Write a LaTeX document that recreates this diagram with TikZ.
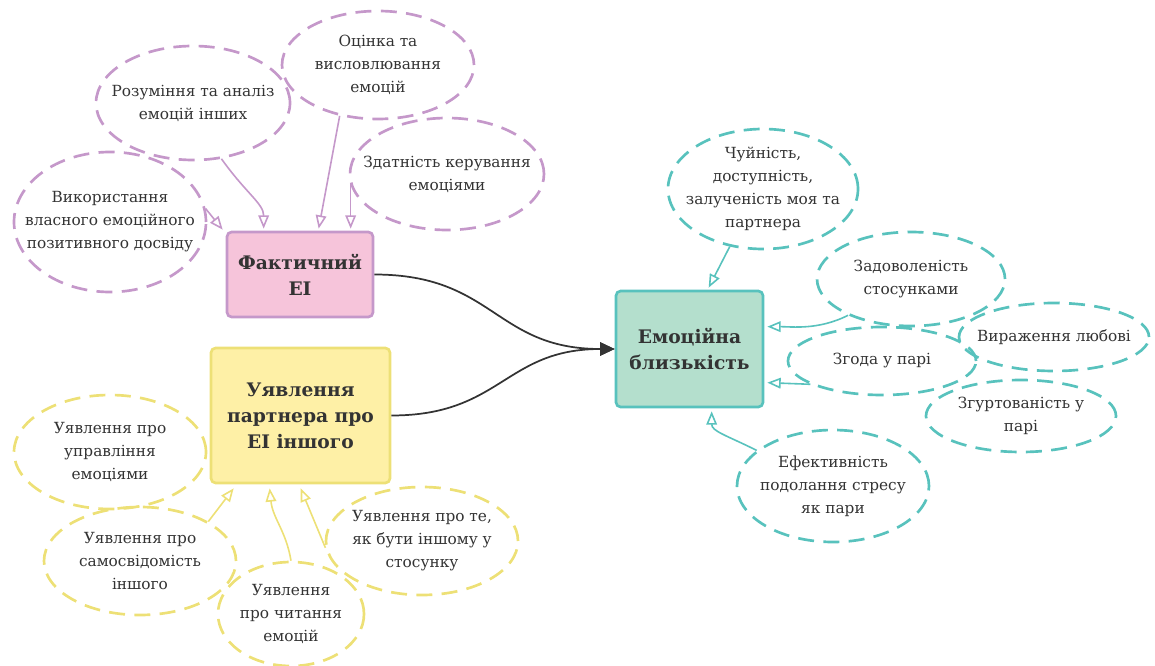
\documentclass[tikz,border=0pt]{standalone}
\usepackage{fontspec}
\setmainfont{DejaVu Serif}
\usetikzlibrary{arrows.meta,shapes.geometric,calc}
\definecolor{pinkF}{HTML}{F6C4DA}
\definecolor{pinkL}{HTML}{C598CA}
\definecolor{yelF}{HTML}{FEF0A6}
\definecolor{yelL}{HTML}{EDE076}
\definecolor{tealF}{HTML}{B4DFCD}
\definecolor{tealL}{HTML}{58C2BD}
\definecolor{txt}{HTML}{333333}
\begin{document}
\begin{tikzpicture}[x=0.75pt,y=-0.75pt,
  ell/.style={draw, ellipse, inner sep=0pt, line width=2pt, dash pattern=on 12pt off 7pt},
  lbl/.style={align=center, text=txt, inner sep=0pt, font=\fontsize{11.5}{17.25}\selectfont},
  box/.style={draw, rounded corners=3.5pt, line width=2pt, align=center, text=txt, inner sep=0pt, font=\bfseries\fontsize{14}{19.5}\selectfont},
  con/.style={line width=1.2pt, -{Triangle[open, length=10pt, width=8pt]}},
  mainlink/.style={draw=txt, line width=1.3pt, -{Triangle[length=11pt, width=10pt]}}]
\useasboundingbox (0,0) rectangle (1155,666);

% central boxes
\node[box, fill=pinkF, draw=pinkL, minimum width=109.5pt, minimum height=63.75pt] (fact) at (300,274.5) {Фактичний\\ЕІ};
\node[box, fill=yelF, draw=yelL, minimum width=134.25pt, minimum height=101.25pt] (yel) at (300.5,415.5) {Уявлення\\партнера про\\ЕІ іншого};
\node[box, fill=tealF, draw=tealL, minimum width=110.25pt, minimum height=87pt] (emo) at (689.5,349) {Емоційна\\близькість};

% pink ellipses
\node[ell, draw=pinkL, minimum width=144pt, minimum height=81pt] (ocin) at (378,65) {};
\node[lbl] (ocin-t) at (ocin) {Оцінка та\\висловлювання\\емоцій};
\node[ell, draw=pinkL, minimum width=145.5pt, minimum height=85.5pt] (roz) at (193,103) {};
\node[lbl] (roz-t) at (roz) {Розуміння та аналіз\\емоцій інших};
\node[ell, draw=pinkL, minimum width=145.5pt, minimum height=84pt] (zdat) at (447,174) {};
\node[lbl] (zdat-t) at (zdat) {Здатність керування\\емоціями};
\node[ell, draw=pinkL, minimum width=144pt, minimum height=105pt] (vyk) at (110,222) {};
\node[lbl] (vyk-t) at (vyk) {Використання\\власного емоційного\\позитивного досвіду};

% yellow ellipses
\node[ell, draw=yelL, minimum width=144pt, minimum height=85.5pt] (upr) at (110,452) {};
\node[lbl] (upr-t) at (upr) {Уявлення про\\управління\\емоціями};
\node[ell, draw=yelL, minimum width=144pt, minimum height=81pt] (sam) at (140,561) {};
\node[lbl] (sam-t) at (sam) {Уявлення про\\самосвідомість\\іншого};
\node[ell, draw=yelL, minimum width=109.5pt, minimum height=78pt] (chyt) at (291,614) {};
\node[lbl] (chyt-t) at (chyt) {Уявлення\\про читання\\емоцій};
\node[ell, draw=yelL, minimum width=144pt, minimum height=81pt] (te) at (422,541) {};
\node[lbl] (te-t) at (te) {Уявлення про те,\\як бути іншому у\\стосунку};

% teal ellipses
\node[ell, draw=tealL, minimum width=142.5pt, minimum height=90pt] (chuy) at (763,189) {};
\node[lbl] (chuy-t) at (chuy) {Чуйність,\\доступність,\\залученість моя та\\партнера};
\node[ell, draw=tealL, minimum width=141pt, minimum height=70.5pt] (zad) at (911,279) {};
\node[lbl] (zad-t) at (zad) {Задоволеність\\стосунками};
\node[ell, draw=tealL, minimum width=142.5pt, minimum height=51pt] (vyr) at (1054,337) {};
\node[lbl] (vyr-t) at (vyr) {Вираження любові};
\node[ell, draw=tealL, minimum width=141pt, minimum height=51pt] (zgod) at (882,361) {};
\node[lbl] (zgod-t) at (zgod) {Згода у парі};
\node[ell, draw=tealL, minimum width=142.5pt, minimum height=54pt] (zgur) at (1021,416) {};
\node[lbl] (zgur-t) at (zgur) {Згуртованість у\\парі};
\node[ell, draw=tealL, minimum width=144pt, minimum height=84pt] (efek) at (833,486) {};
\node[lbl] (efek-t) at (efek) {Ефективність\\подолання стресу\\як пари};

% pink connectors
\draw[con, draw=pinkL] (roz.-63) .. controls +(25,35) and +(0,-25) .. ($(fact.north west)+(38,-2)$);
\draw[con, draw=pinkL] (ocin.-127) -- ($(fact.north west)+(93,-2)$);
\draw[con, draw=pinkL] ($(zdat.west)+(2,10)$) -- ($(fact.north west)+(125,-2)$);
\draw[con, draw=pinkL] (vyk.8) -- ($(fact.north west)+(-3,-1)$);

% yellow connectors
\draw[con, draw=yelL] (sam.30) -- ($(yel.south west)+(24,4)$);
\draw[con, draw=yelL] (chyt.north) .. controls +(-5,-30) and +(3,30) .. ($(yel.south west)+(60,4)$);
\draw[con, draw=yelL] (te.-176) -- ($(yel.south west)+(91,4)$);

% teal connectors
\draw[con, draw=tealL] (chuy.-120) -- ($(emo.north west)+(94,-2)$);
\draw[con, draw=tealL] (zad.-150) .. controls +(-30,15) and +(25,0) .. ($(emo.north east)+(3,37)$);
\draw[con, draw=tealL] (zgod.-162) -- ($(emo.north east)+(3,93)$);
\draw[con, draw=tealL] (efek.155) .. controls +(-30,-15) and +(0,20) .. ($(emo.south west)+(97,3)$);

% main links
\draw[mainlink] (fact.east) .. controls +(120,0) and +(-120,0) .. (emo.west);
\draw[mainlink] (yel.east) .. controls +(110,0) and +(-110,0) .. (emo.west);
\end{tikzpicture}
\end{document}
